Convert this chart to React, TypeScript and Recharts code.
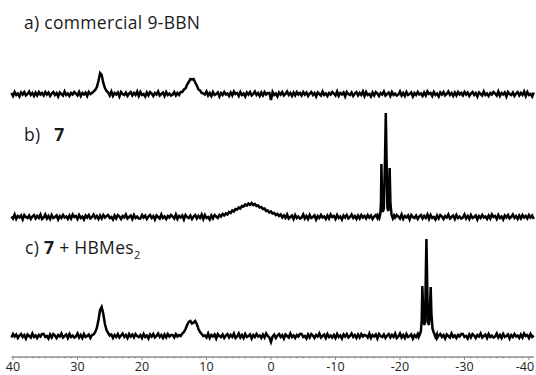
import { LineChart, Line, XAxis, YAxis } from 'recharts';

// Spectra sampled every 0.25 ppm from 40.25 down to -40.75 (325 points each, baseline = 0).
// Each row holds 20 samples = 5 ppm.
const GRID_START = 40.25;
const GRID_STEP = 0.25;

const specA = [
  1, -2, 2, -1, 0.5, -2.5, 1.5, -0.5, 2, -1.5, 0, 2.5, -1, 1, -2, 1.5, -1.5, 2, -0.5, 1,
  -1.5, 2, -0.5, 1.5, -2, 0.5, 2, -1, 1, -2.5, 1.5, 0, -1.5, 2.5, -1, 0.5, -2, 1, -0.5, 2,
  0.5, -1.5, 2, -2, 1, -0.5, 1.5, -2, 2, 0, 1, 2.5, 4, 7, 13, 21, 19, 11, 6, 3,
  1.5, -1.5, 2.5, -2, 1, -0.5, 1.5, -2.5, 2, 0, -1, 1.5, -2, 0.5, 2, -1.5, 1, -1, 2.5, -2,
  2, -1, 0, -2.5, 1.5, -1.5, 2, 0.5, -2, 1, -0.5, 2.5, -1.5, 0, 1.5, -2, 2, -1, 0.5, -1.5,
  -0.5, 2, -1.5, 1, -1, 2, 2, 4.5, 5.5, 9.5, 12, 15, 14.5, 15, 11.5, 8.5, 4.5, 3.5, 1, 0.5,
  -0.5, 2.5, -1.5, 1, -2, 2, -1, 0, 1.5, -2.5, 1, -1, 2, -0.5, 0.5, -2, 1.5, -1.5, 2.5, 0,
  1, -2, 2, -1, 0.5, -2.5, 1.5, -0.5, 2, -1.5, 0, 2.5, -1, 1, -2, 1.5, -1.5, 2, -0.5, 1,
  1, -6, 2, -1, 0.5, -2.5, 1.5, -0.5, 2, -1.5, 0, 2.5, -1, 1, -2, 1.5, -1.5, 2, -0.5, 1,
  -1.5, 2, -0.5, 1.5, -2, 0.5, 2, -1, 1, -2.5, 1.5, 0, -1.5, 2.5, -1, 0.5, -2, 1, -0.5, 2,
  0.5, -1.5, 2.5, -2, 1, -0.5, 1.5, -2.5, 2, 0, -1, 1.5, -2, 0.5, 2, -1.5, 1, -1, 2.5, -2,
  2, -1, 0, -2.5, 1.5, -1.5, 2, 0.5, -2, 1, -0.5, 2.5, -1.5, 0, 1.5, -2, 2, -1, 0.5, -1.5,
  -0.5, 2.5, -1.5, 1, -2, 2, -1, 0, 1.5, -2.5, 1, -1, 2, -0.5, 0.5, -2, 1.5, -1.5, 2.5, 0,
  1, -2, 2, -1, 0.5, -2.5, 1.5, -0.5, 2, -1.5, 0, 2.5, -1, 1, -2, 1.5, -1.5, 2, -0.5, 1,
  -1.5, 2, -0.5, 1.5, -2, 0.5, 2, -1, 1, -2.5, 1.5, 0, -1.5, 2.5, -1, 0.5, -2, 1, -0.5, 2,
  0.5, -1.5, 2.5, -2, 1, -0.5, 1.5, -2.5, 2, 0, -1, 1.5, -2, 0.5, 2, -1.5, 1, -1, 2.5, -2,
  2, -1, 0, -2.5, 1.5,
];

const specB = [
  0.5, -1.5, 2.5, -2, 1, -0.5, 1.5, -2.5, 2, 0, -1, 1.5, -2, 0.5, 2, -1.5, 1, -1, 2.5, -2,
  -0.5, 2.5, -1.5, 1, -2, 2, -1, 0, 1.5, -2.5, 1, -1, 2, -0.5, 0.5, -2, 1.5, -1.5, 2.5, 0,
  1, -2, 2, -1, 0.5, -2.5, 1.5, -0.5, 2, -1.5, 0, 2.5, -1, 1, -2, 1.5, -1.5, 2, -0.5, 1,
  2, -1, 0, -2.5, 1.5, -1.5, 2, 0.5, -2, 1, -0.5, 2.5, -1.5, 0, 1.5, -2, 2, -1, 0.5, -1.5,
  -1.5, 2, -0.5, 1.5, -2, 0.5, 2, -1, 1, -2.5, 1.5, 0, -1.5, 2.5, -1, 0.5, -2, 1, -0.5, 2,
  0.5, -1.5, 2.5, -2, 1, -0.5, 1.5, -2.5, 2, 0, -1, 1.5, -2, 0.5, 2, -1.5, 1, -1, 2.5, -2,
  2, -1, 0, -2.5, 1.5, -1.5, 2, 0.5, -1, 2, 0.5, 3, 1.5, 3.5, 2.5, 5, 4, 6.5, 5.5, 8,
  7.5, 9.5, 8.5, 11, 10.5, 12.5, 11.5, 13.5, 12, 14, 12, 13, 11, 11.5, 9.5, 10, 8, 8.5, 6, 6.5,
  4.5, 5.5, 3.5, 4, 2, 3, 1, 2.5, -0.5, 1.5, -1, 2.5, -1.5, 0, 1.5, -2, 2, -1, 0.5, -1.5,
  -0.5, 2.5, -1.5, 1, -2, 2, -1, 0, 1.5, -2.5, 1, -1, 2, -0.5, 0.5, -2, 1.5, -1.5, 2.5, 0,
  1, -2, 2, -1, 0.5, -2.5, 1.5, -0.5, 2, -1.5, 0, 2.5, -1, 1, -2, 1.5, -1.5, 2, -0.5, 1,
  -1.5, 2, -0.5, 1.5, -2, 0.5, 2, -1, 1, -2.5, 1.5, 0, -1.5, 2.5, -1, 0.5, -2, 1, -0.5, 2,
  0.5, -1.5, 2.5, -2, 1, -0.5, 1.5, -2.5, 2, 0, -1, 1.5, -2, 0.5, 2, -1.5, 1, -1, 2.5, -2,
  2, -1, 0, -2.5, 1.5, -1.5, 2, 0.5, -2, 1, -0.5, 2.5, -1.5, 0, 1.5, -2, 2, -1, 0.5, -1.5,
  -0.5, 2.5, -1.5, 1, -2, 2, -1, 0, 1.5, -2.5, 1, -1, 2, -0.5, 0.5, -2, 1.5, -1.5, 2.5, 0,
  1, -2, 2, -1, 0.5, -2.5, 1.5, -0.5, 2, -1.5, 0, 2.5, -1, 1, -2, 1.5, -1.5, 2, -0.5, 1,
  -1.5, 2, -0.5, 1.5, -2,
];

const specC = [
  -1.5, 2, -0.5, 1.5, -2, 0.5, 2, -1, 1, -2.5, 1.5, 0, -1.5, 2.5, -1, 0.5, -2, 1, -0.5, 2,
  2, -1, 0, -2.5, 1.5, -1.5, 2, 0.5, -2, 1, -0.5, 2.5, -1.5, 0, 1.5, -2, 2, -1, 0.5, -1.5,
  -0.5, 2.5, -1.5, 1, -2, 2, -1, 0, 1.5, -2, 1, 1.5, 4, 8, 16, 26, 29, 22, 12, 6,
  3, 0.5, 1.5, -2, 1, -1, 2, -1.5, 0.5, 2.5, -1, 1, -2, 2, -0.5, 1.5, -1.5, 2, 0, -1,
  1, -2, 2, -1, 0.5, -2.5, 1.5, -0.5, 2, -1.5, 0, 2.5, -1, 1, -2, 1.5, -1.5, 2, -0.5, 1,
  1, -1.5, 2, -0.5, 1, 0, 2.5, 4, 7, 11, 14, 15, 12.5, 13.5, 15, 12, 7, 4, 2, 0,
  0.5, -1.5, 2.5, -2, 1, -0.5, 1.5, -2.5, 2, 0, -1, 1.5, -2, 0.5, 2, -1.5, 1, -1, 2.5, -2,
  -0.5, 2.5, -1.5, 1, -2, 2, -1, 0, 1.5, -2.5, 1, -1, 2, -0.5, 0.5, -2, 1.5, -1.5, 2.5, 0,
  -1.5, -6, -0.5, 1.5, -2, 0.5, 2, -1, 1, -2.5, 1.5, 0, -1.5, 2.5, -1, 0.5, -2, 1, -0.5, 2,
  2, -1, 0, -2.5, 1.5, -1.5, 2, 0.5, -2, 1, -0.5, 2.5, -1.5, 0, 1.5, -2, 2, -1, 0.5, -1.5,
  1, -2, 2, -1, 0.5, -2.5, 1.5, -0.5, 2, -1.5, 0, 2.5, -1, 1, -2, 1.5, -1.5, 2, -0.5, 1,
  0.5, -1.5, 2.5, -2, 1, -0.5, 1.5, -2.5, 2, 0, -1, 1.5, -2, 0.5, 2, -1.5, 1, -1, 2.5, -2,
  -0.5, 2.5, -1.5, 1, -2, 2, -1, 0, 1.5, -2.5, 1, -1, 2, -0.5, 0.5, -2, 1.5, -1.5, 2.5, 0,
  -1.5, 2, -0.5, 1.5, -2, 0.5, 2, -1, 1, -2.5, 1.5, 0, -1.5, 2.5, -1, 0.5, -2, 1, -0.5, 2,
  2, -1, 0, -2.5, 1.5, -1.5, 2, 0.5, -2, 1, -0.5, 2.5, -1.5, 0, 1.5, -2, 2, -1, 0.5, -1.5,
  -0.5, 2.5, -1.5, 1, -2, 2, -1, 0, 1.5, -2.5, 1, -1, 2, -0.5, 0.5, -2, 1.5, -1.5, 2.5, 0,
  1, -2, 2, -1, 0.5,
];

// sharp triplets, sampled finer (ppm, intensity)
const tripletB: [number, number][] = [
  [-16.6, 1.5], [-16.8, -1], [-16.95, 3], [-17.05, 14], [-17.12, 53], [-17.22, 22], [-17.35, 5], [-17.5, 9],
  [-17.68, 58], [-17.8, 104], [-17.92, 58], [-18.05, 9], [-18.2, 6], [-18.3, 22], [-18.4, 49], [-18.52, 14],
  [-18.7, 2], [-18.9, -1.5], [-19.1, 1.5],
];

const tripletC: [number, number][] = [
  [-22.9, -1], [-23.1, 2], [-23.25, 5], [-23.37, 16], [-23.47, 50], [-23.6, 24], [-23.75, 11], [-23.9, 14],
  [-24.0, 60], [-24.1, 97], [-24.2, 60], [-24.32, 14], [-24.5, 11], [-24.62, 24], [-24.76, 49], [-24.88, 22],
  [-25.05, 7], [-25.3, 2.5], [-25.5, -1], [-25.7, 1.5],
];

const majorTicks = [40, 30, 20, 10, 0, -10, -20, -30, -40];
const minorTicks = Array.from({ length: 81 }, (_, i) => 40 - i);

const X_DOMAIN: [number, number] = [-40.75, 40.25];
const FONT = '"Open Sans", Lato, sans-serif';

function buildRows(spec: number[], triplet?: [number, number][]) {
  const rows = spec.map((v, i) => ({ ppm: GRID_START - i * GRID_STEP, v }));
  if (!triplet) return rows;
  const hi = triplet[0][0];
  const lo = triplet[triplet.length - 1][0];
  return [...rows.filter((r) => r.ppm > hi || r.ppm < lo), ...triplet.map(([ppm, v]) => ({ ppm, v }))].sort(
    (a, b) => b.ppm - a.ppm,
  );
}

function AxisTick(props: any) {
  const { x, y, payload } = props;
  const v = payload.value as number;
  const major = majorTicks.includes(v);
  const tx = Math.min(x, 525);
  return (
    <g>
      <line x1={x} x2={x} y1={y} y2={y + (major ? 3 : 1.5)} stroke="#8c8c8c" strokeWidth={1} />
      {major && (
        <text x={tx} y={y + 14} textAnchor="middle" fontSize={12.5} fill="#222" fontFamily={FONT}>
          {v}
        </text>
      )}
    </g>
  );
}

function Spectrum({ rows, top, showAxis }: { rows: { ppm: number; v: number }[]; top: number; showAxis?: boolean }) {
  const plotH = showAxis ? 131 : 130;
  const h = plotH + (showAxis ? 18 : 0);
  return (
    <div style={{ position: 'absolute', left: 0, top, width: 536, height: h }}>
      <LineChart width={536} height={h} data={rows} margin={{ top: 0, right: 2.2, bottom: 0, left: 11.4 }}>
        <XAxis
          dataKey="ppm"
          type="number"
          domain={X_DOMAIN}
          reversed
          hide={!showAxis}
          ticks={minorTicks}
          interval={0}
          tick={<AxisTick />}
          tickLine={false}
          tickSize={0}
          tickMargin={0}
          height={18}
          axisLine={{ stroke: '#8c8c8c', strokeWidth: 1.5 }}
        />
        <YAxis hide type="number" domain={[showAxis ? -21 : -20, 110]} />
        <Line type="linear" dataKey="v" stroke="#000" strokeWidth={2.5} dot={false} isAnimationActive={false} />
      </LineChart>
    </div>
  );
}

const labelStyle: React.CSSProperties = {
  position: 'absolute',
  left: 24,
  fontFamily: FONT,
  fontSize: 17.5,
  letterSpacing: 0.3,
  lineHeight: '20px',
  color: '#1a1a1a',
  whiteSpace: 'pre',
};

export default function App() {
  return (
    <div style={{ position: 'absolute', left: 0, top: 0, width: 536, height: 375, background: '#fff', overflow: 'hidden' }}>
      <div style={{ ...labelStyle, top: 12 }}>a) commercial 9-BBN</div>
      <div style={{ ...labelStyle, top: 124 }}>
        b)  <b style={{ marginLeft: 4 }}>7</b>
      </div>
      <div style={{ ...labelStyle, top: 237, left: 25 }}>
        c) <b>7</b> + HBMes<sub style={{ fontSize: 11, lineHeight: 0 }}>2</sub>
      </div>
      <Spectrum rows={buildRows(specA)} top={-16} />
      <Spectrum rows={buildRows(specB, tripletB)} top={107} />
      <Spectrum rows={buildRows(specC, tripletC)} top={226} showAxis />
    </div>
  );
}
